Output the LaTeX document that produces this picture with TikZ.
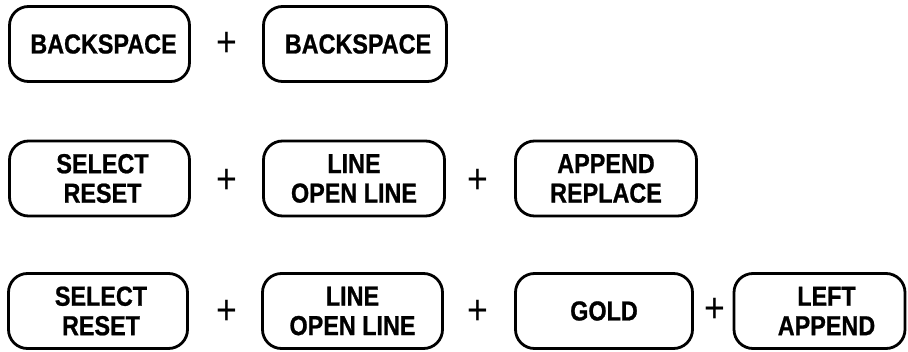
\documentclass[tikz,border=0pt]{standalone}
\usepackage{fontspec}
\setmainfont{Liberation Sans}[FakeStretch=0.85, BoldFeatures={FakeBold=0.8}]
\begin{document}
\begin{tikzpicture}[x=1pt,y=-1pt,
  keybox/.style={draw=black, line width=2.8pt, rounded corners=19pt, inner sep=0pt,
    minimum height=75pt, align=center,
    font=\fontsize{27.5}{29.5}\selectfont\bfseries},
  plus/.style={inner sep=0pt, font=\fontsize{42}{42}\selectfont}]
\useasboundingbox (0,0) rectangle (908,351);
% row 1
\node[keybox, minimum width=180pt] (r1a) at (99.5,44) {\hspace*{8pt}BACKSPACE};
\node[keybox, minimum width=183pt] (r1b) at (355,44) {\hspace*{6pt}BACKSPACE};
\node[plus] (p1a) at (227,44) {+};
% row 2
\node[keybox, minimum width=180pt] (r2a) at (99.5,178.5) {\hspace*{6pt}SELECT\\\hspace*{6pt}RESET};
\node[keybox, minimum width=181pt] (r2b) at (354,178.5) {LINE\\OPEN LINE};
\node[keybox, minimum width=181pt] (r2c) at (606,178.5) {APPEND\\REPLACE};
\node[plus] (p2a) at (227,181) {+};
\node[plus] (p2b) at (478,181) {+};
% row 3
\node[keybox, minimum width=179pt] (r3a) at (98,311) {\hspace*{6pt}SELECT\\\hspace*{6pt}RESET};
\node[keybox, minimum width=180pt] (r3b) at (352.5,311) {LINE\\OPEN LINE};
\node[keybox, minimum width=177pt] (r3c) at (604,311) {GOLD};
\node[keybox, minimum width=171pt] (r3d) at (819.5,311) {\hspace*{14pt}LEFT\\\hspace*{14pt}APPEND};
\node[plus] (p3a) at (227,312) {+};
\node[plus] (p3b) at (478,312) {+};
\node[plus] (p3c) at (715,310) {+};
\end{tikzpicture}
\end{document}
